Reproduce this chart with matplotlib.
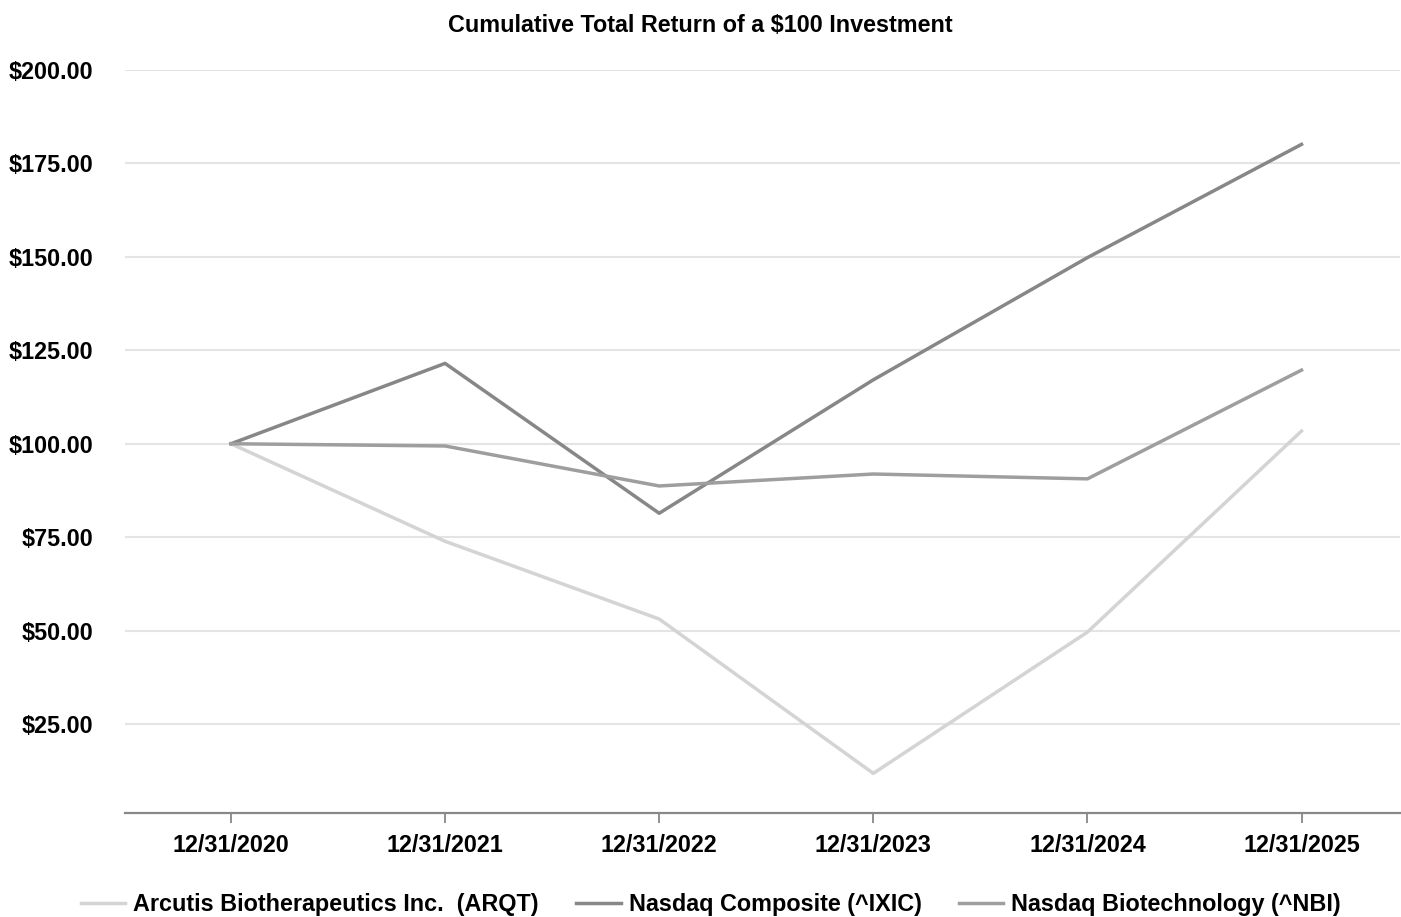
import matplotlib
matplotlib.use("Agg")
import matplotlib.pyplot as plt
from matplotlib.ticker import FuncFormatter

plt.rcParams["font.family"] = ["Liberation Sans", "DejaVu Sans"]
plt.rcParams["font.weight"] = "bold"

# data
dates = ["12/31/2020", "12/31/2021", "12/31/2022",
         "12/31/2023", "12/31/2024", "12/31/2025"]
arqt = [100.0, 73.9, 53.1, 11.8, 49.6, 103.4]
ixic = [100.0, 121.5, 81.4, 117.1, 149.8, 180.1]
nbi = [100.0, 99.4, 88.7, 91.9, 90.6, 119.7]
series_names = ["Arcutis Biotherapeutics Inc.  (ARQT)",
                "Nasdaq Composite (^IXIC)",
                "Nasdaq Biotechnology (^NBI)"]
yticks = [25, 50, 75, 100, 125, 150, 175, 200]

W, H = 1401, 917
FS = 16.8
fig = plt.figure(figsize=(W / 100, H / 100), dpi=100)
ax = fig.add_axes([125 / W, 1 - 813 / H, (1400 - 125) / W, (813 - 70) / H])

x = range(len(dates))
ax.plot(x, arqt, color="#d4d4d4", lw=2.5, label=series_names[0], zorder=3)
ax.plot(x, ixic, color="#878787", lw=2.5, label=series_names[1], zorder=3)
ax.plot(x, nbi, color="#9e9e9e", lw=2.5, label=series_names[2], zorder=3)

ax.set_xlim(-0.495, 5.46)
ax.set_ylim(1.2, 200)
ax.set_yticks(yticks)
ax.yaxis.set_major_formatter(FuncFormatter(lambda v, _: f"${v:,.2f}"))
ax.set_xticks(list(x))
ax.set_xticklabels(dates)

ax.grid(axis="y", color="#e4e4e4", lw=1.5, zorder=0)
for s in ("top", "right", "left"):
    ax.spines[s].set_visible(False)
ax.spines["bottom"].set_color("#888888")
ax.spines["bottom"].set_linewidth(1.6)
ax.tick_params(axis="y", length=0, pad=23, labelsize=FS)
ax.tick_params(axis="x", length=7.2, width=1.3, color="#888888", pad=8,
               labelsize=FS)

fig.text(0.5, 1 - 25 / H, "Cumulative Total Return of a $100 Investment",
         ha="center", va="center", fontsize=FS, fontweight="bold")

fig.legend(loc="center", bbox_to_anchor=(711 / W, 1 - 905 / H), ncol=3,
           frameon=False, fontsize=FS, handlelength=1.9,
           handletextpad=0.35, columnspacing=1.6)

fig.savefig("out.png", dpi=100)
